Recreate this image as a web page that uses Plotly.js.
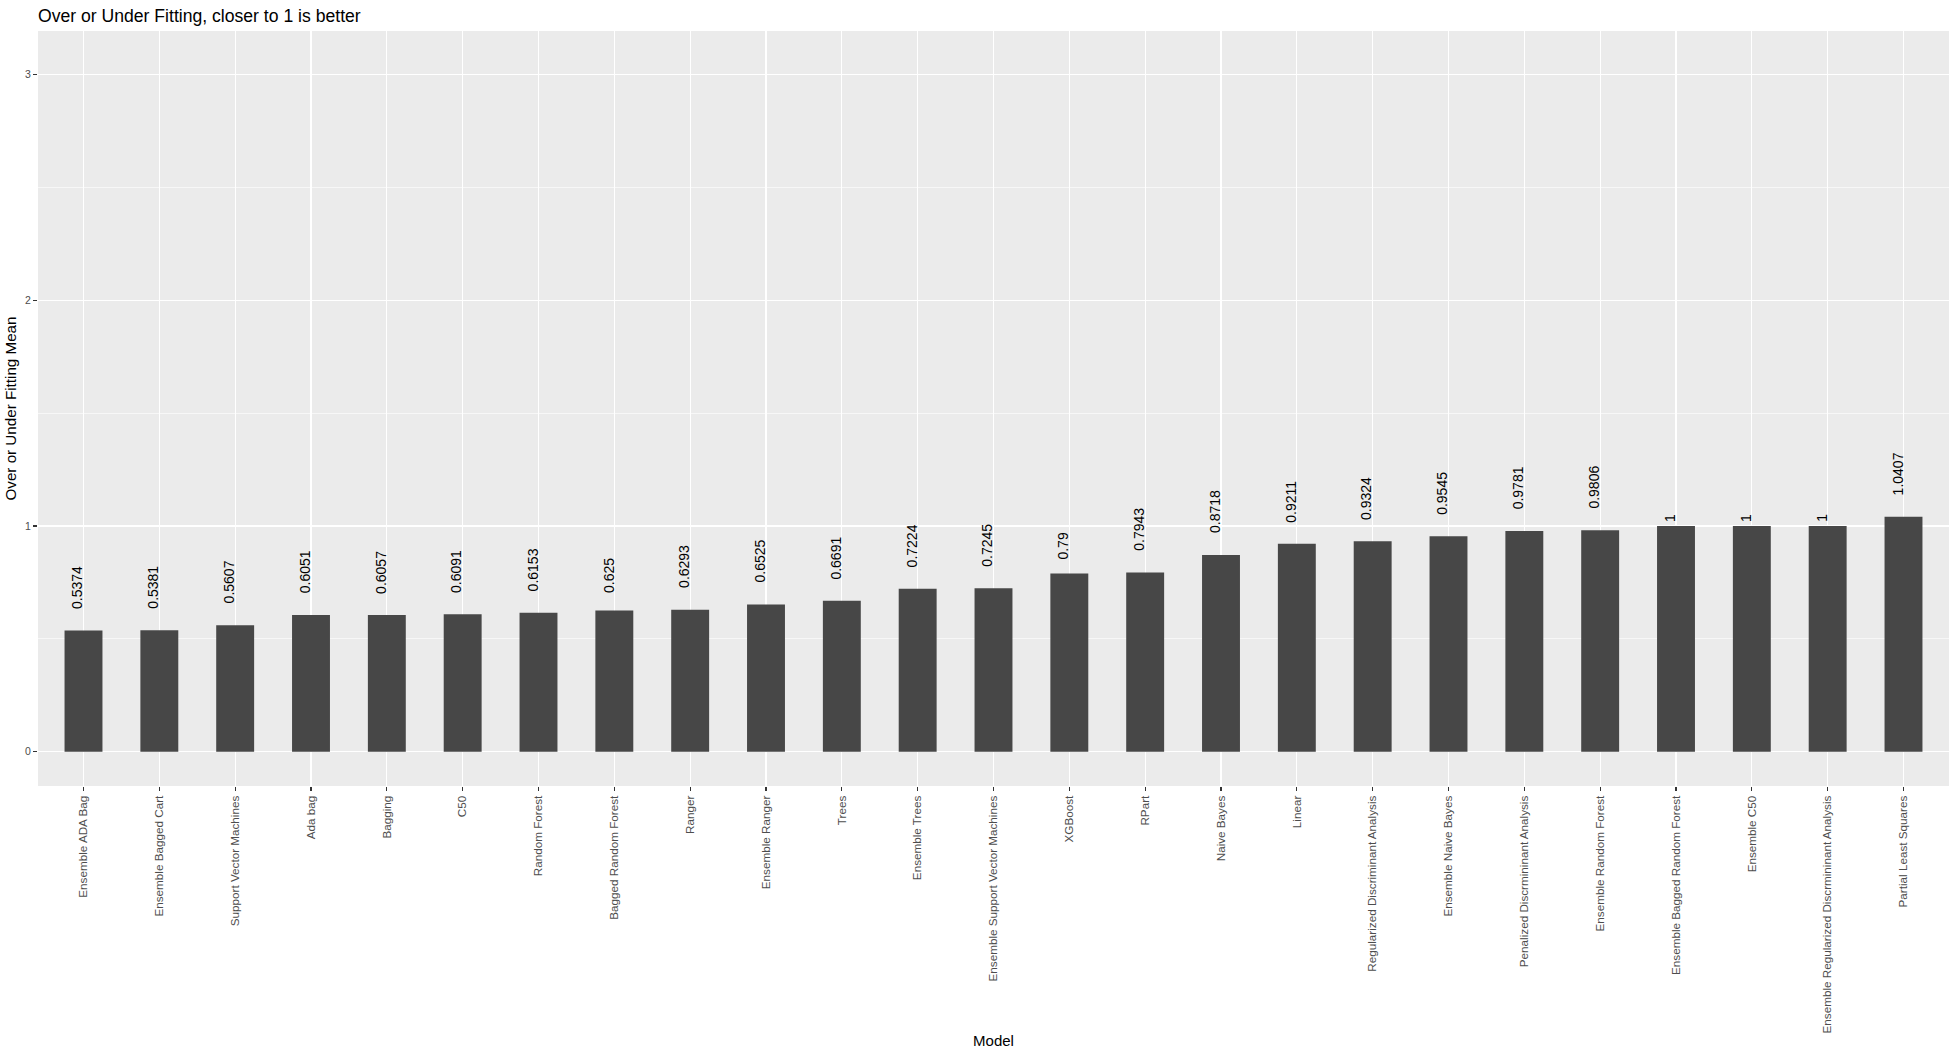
<!DOCTYPE html>
<html>
<head>
<meta charset="utf-8">
<script src="https://cdn.plot.ly/plotly-3.0.1.min.js"></script>
<style>
html,body{margin:0;padding:0;background:#fff;}
#chart{width:1956px;height:1057px;}
</style>
</head>
<body>
<div id="chart"></div>
<script>
const models = [
  "Ensemble ADA Bag", "Ensemble Bagged Cart", "Support Vector Machines", "Ada bag",
  "Bagging", "C50", "Random Forest", "Bagged Random Forest", "Ranger",
  "Ensemble Ranger", "Trees", "Ensemble Trees", "Ensemble Support Vector Machines",
  "XGBoost", "RPart", "Naive Bayes", "Linear", "Regularized Discriminant Analysis",
  "Ensemble Naive Bayes", "Penalized Discrmininant Analysis", "Ensemble Random Forest",
  "Ensemble Bagged Random Forest", "Ensemble C50",
  "Ensemble Regularized Discrmininant Analysis", "Partial Least Squares"
];
const fitMean = [
  0.5374, 0.5381, 0.5607, 0.6051, 0.6057, 0.6091, 0.6153, 0.625, 0.6293,
  0.6525, 0.6691, 0.7224, 0.7245, 0.79, 0.7943, 0.8718, 0.9211, 0.9324,
  0.9545, 0.9781, 0.9806, 1, 1, 1, 1.0407
];
const yTickVals = [0, 1, 2, 3];
const yTickText = ["0", "1", "2", "3"];

const FONT = '"Liberation Sans", Arial, sans-serif';
const labelSize = 14;
const cv = document.createElement('canvas').getContext('2d');
cv.font = labelSize + 'px "Liberation Sans"';

const annotations = fitMean.map((v, i) => {
  const txt = String(v);
  const w = cv.measureText(txt).width;
  return {
    x: models[i], y: v, xref: 'x', yref: 'y',
    text: txt, showarrow: false, textangle: -90,
    xanchor: 'right', yanchor: 'bottom',
    xshift: 4, yshift: 0.5 * w - 2,
    font: {family: FONT, size: labelSize, color: '#000'}
  };
});

const trace = {
  type: 'bar', x: models, y: fitMean, width: 0.5,
  marker: {color: '#474747', line: {width: 0}},
  hoverinfo: 'x+y'
};

const layout = {
  width: 1956, height: 1057,
  paper_bgcolor: '#ffffff', plot_bgcolor: '#EBEBEB',
  margin: {l: 38, r: 7, t: 31, b: 271, pad: 0},
  showlegend: false,
  font: {family: FONT, color: '#000'},
  title: {
    text: 'Over or Under Fitting, closer to 1 is better',
    font: {family: FONT, size: 17.6, color: '#000'},
    x: 38 / 1956, xref: 'container', xanchor: 'left',
    y: 1 - 16 / 1057, yref: 'container', yanchor: 'middle'
  },
  xaxis: {
    type: 'category', range: [-0.6, 24.6], autorange: false,
    tickangle: -90, ticks: 'outside', ticklen: 4, tickwidth: 1.1, tickcolor: '#333333',
    tickfont: {family: FONT, size: 11.7, color: '#4D4D4D'},
    showgrid: true, gridcolor: '#FFFFFF', gridwidth: 1.3,
    zeroline: false, showline: false, automargin: false,
    title: {text: 'Model', font: {family: FONT, size: 15, color: '#000'}, standoff: 3}
  },
  yaxis: {
    range: [-0.152, 3.193], autorange: false,
    tickvals: yTickVals, ticktext: yTickText,
    ticks: 'outside', ticklen: 4, tickwidth: 1.1, tickcolor: '#333333',
    tickfont: {family: FONT, size: 10.5, color: '#4D4D4D'},
    showgrid: true, gridcolor: '#FFFFFF', gridwidth: 1.3,
    minor: {dtick: 0.5, tick0: 0, showgrid: true, gridcolor: '#FFFFFF', gridwidth: 0.6},
    zeroline: false, showline: false, automargin: false,
    title: {text: 'Over or Under Fitting Mean', font: {family: FONT, size: 15.2, color: '#000'}, standoff: 4}
  },
  annotations: annotations,
  bargap: 0.5
};

Plotly.newPlot('chart', [trace], layout, {displayModeBar: false, staticPlot: true});
</script>
</body>
</html>
